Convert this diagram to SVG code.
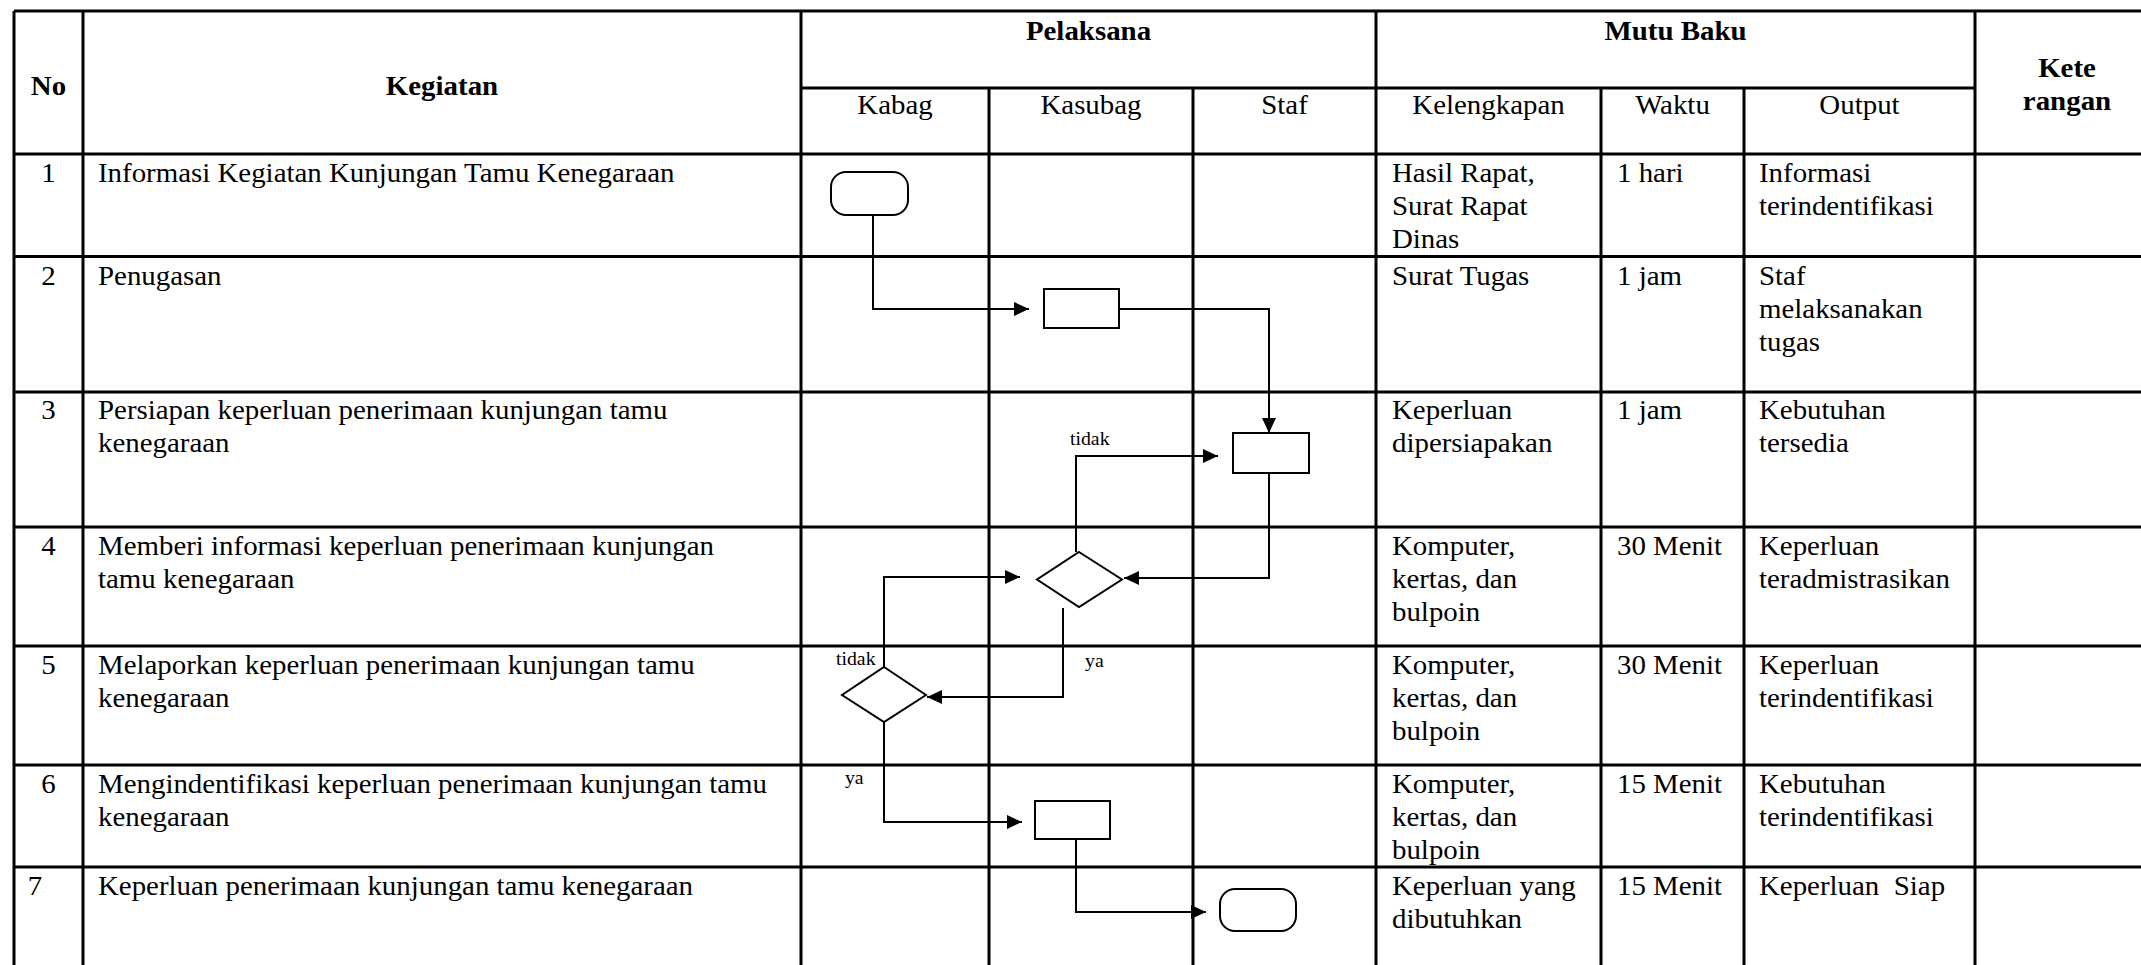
<svg xmlns="http://www.w3.org/2000/svg" width="2141" height="965" viewBox="0 0 2141 965">
<style>
.grid{stroke:#000;stroke-width:3;fill:none}
.shape{fill:#fff;stroke:#000;stroke-width:2}
.conn{fill:none;stroke:#000;stroke-width:2}
text{font-family:"Liberation Serif","Times New Roman",serif;font-size:27px;fill:#000}
.b{font-weight:bold}
.c{text-anchor:middle}
.s{font-size:18.5px}
</style>
<defs>
<marker id="arr" markerUnits="userSpaceOnUse" markerWidth="16" markerHeight="16" viewBox="0 0 16 16" refX="15" refY="8" orient="auto">
<path d="M0,1 L15,8 L0,15 Z" fill="#000"/>
</marker>
</defs>
<rect width="2141" height="965" fill="#fff"/>
<g id="table" class="grid">
<line x1="14" y1="11" x2="2141" y2="11"/>
<line x1="801" y1="88" x2="1975" y2="88"/>
<line x1="14" y1="154" x2="2141" y2="154"/>
<line x1="14" y1="256.5" x2="2141" y2="256.5"/>
<line x1="14" y1="392" x2="2141" y2="392"/>
<line x1="14" y1="527" x2="2141" y2="527"/>
<line x1="14" y1="646" x2="2141" y2="646"/>
<line x1="14" y1="765" x2="2141" y2="765"/>
<line x1="14" y1="867" x2="2141" y2="867"/>
<line x1="14" y1="11" x2="14" y2="965"/>
<line x1="83" y1="11" x2="83" y2="965"/>
<line x1="801" y1="11" x2="801" y2="965"/>
<line x1="989" y1="88" x2="989" y2="965"/>
<line x1="1193" y1="88" x2="1193" y2="965"/>
<line x1="1376" y1="11" x2="1376" y2="965"/>
<line x1="1601" y1="88" x2="1601" y2="965"/>
<line x1="1744" y1="88" x2="1744" y2="965"/>
<line x1="1975" y1="11" x2="1975" y2="965"/>
</g>
<g id="texts" transform="scale(1.07 1)">
<text class="b c" x="45.33" y="95">No</text>
<text class="b c" x="413.08" y="95">Kegiatan</text>
<text class="b c" x="1017.29" y="40">Pelaksana</text>
<text class="b c" x="1565.89" y="40">Mutu Baku</text>
<text class="b c" x="1931.78" y="77">Kete</text>
<text class="b c" x="1931.78" y="110">rangan</text>
<text class="c" x="836.45" y="114">Kabag</text>
<text class="c" x="1019.63" y="114">Kasubag</text>
<text class="c" x="1200.47" y="114">Staf</text>
<text class="c" x="1391.12" y="114">Kelengkapan</text>
<text class="c" x="1563.08" y="114">Waktu</text>
<text class="c" x="1737.85" y="114">Output</text>

<text class="c" x="45.33" y="182">1</text>
<text x="91.59" y="182">Informasi Kegiatan Kunjungan Tamu Kenegaraan</text>
<text x="1300.93" y="182">Hasil Rapat,</text>
<text x="1300.93" y="215">Surat Rapat</text>
<text x="1300.93" y="248">Dinas</text>
<text x="1511.21" y="182">1 hari</text>
<text x="1643.93" y="182">Informasi</text>
<text x="1643.93" y="215">terindentifikasi</text>

<text class="c" x="45.33" y="285">2</text>
<text x="91.59" y="285">Penugasan</text>
<text x="1300.93" y="285">Surat Tugas</text>
<text x="1511.21" y="285">1 jam</text>
<text x="1643.93" y="285">Staf</text>
<text x="1643.93" y="318">melaksanakan</text>
<text x="1643.93" y="351">tugas</text>

<text class="c" x="45.33" y="419">3</text>
<text x="91.59" y="419">Persiapan keperluan penerimaan kunjungan tamu</text>
<text x="91.59" y="452">kenegaraan</text>
<text x="1300.93" y="419">Keperluan</text>
<text x="1300.93" y="452">dipersiapakan</text>
<text x="1511.21" y="419">1 jam</text>
<text x="1643.93" y="419">Kebutuhan</text>
<text x="1643.93" y="452">tersedia</text>

<text class="c" x="45.33" y="555">4</text>
<text x="91.59" y="555">Memberi informasi keperluan penerimaan kunjungan</text>
<text x="91.59" y="588">tamu kenegaraan</text>
<text x="1300.93" y="555">Komputer,</text>
<text x="1300.93" y="588">kertas, dan</text>
<text x="1300.93" y="621">bulpoin</text>
<text x="1511.21" y="555">30 Menit</text>
<text x="1643.93" y="555">Keperluan</text>
<text x="1643.93" y="588">teradmistrasikan</text>

<text class="c" x="45.33" y="674">5</text>
<text x="91.59" y="674">Melaporkan keperluan penerimaan kunjungan tamu</text>
<text x="91.59" y="707">kenegaraan</text>
<text x="1300.93" y="674">Komputer,</text>
<text x="1300.93" y="707">kertas, dan</text>
<text x="1300.93" y="740">bulpoin</text>
<text x="1511.21" y="674">30 Menit</text>
<text x="1643.93" y="674">Keperluan</text>
<text x="1643.93" y="707">terindentifikasi</text>

<text class="c" x="45.33" y="793">6</text>
<text x="91.59" y="793">Mengindentifikasi keperluan penerimaan kunjungan tamu</text>
<text x="91.59" y="826">kenegaraan</text>
<text x="1300.93" y="793">Komputer,</text>
<text x="1300.93" y="826">kertas, dan</text>
<text x="1300.93" y="859">bulpoin</text>
<text x="1511.21" y="793">15 Menit</text>
<text x="1643.93" y="793">Kebutuhan</text>
<text x="1643.93" y="826">terindentifikasi</text>

<text class="c" x="32.71" y="895">7</text>
<text x="91.59" y="895">Keperluan penerimaan kunjungan tamu kenegaraan</text>
<text x="1300.93" y="895">Keperluan yang</text>
<text x="1300.93" y="928">dibutuhkan</text>
<text x="1511.21" y="895">15 Menit</text>
<text x="1643.93" y="895">Keperluan&#160; Siap</text>

<text class="s" x="1000" y="445">tidak</text>
<text class="s" x="781.31" y="665">tidak</text>
<text class="s" x="1014.02" y="667">ya</text>
<text class="s" x="789.72" y="784">ya</text>
</g>
<g id="connectors" class="conn">
<polyline points="873,215 873,309 1029,309" marker-end="url(#arr)"/>
<polyline points="1119,309 1269,309 1269,433" marker-end="url(#arr)"/>
<polyline points="1269,473 1269,578 1124,578" marker-end="url(#arr)"/>
<polyline points="1076,552 1076,456 1218,456" marker-end="url(#arr)"/>
<polyline points="1063,608 1063,697 927,697" marker-end="url(#arr)"/>
<polyline points="884,667 884,577 1020,577" marker-end="url(#arr)"/>
<polyline points="884,722 884,822 1022,822" marker-end="url(#arr)"/>
<polyline points="1076,839 1076,912 1206,912" marker-end="url(#arr)"/>
</g>
<g id="n1"><rect class="shape" x="831" y="172" width="77" height="43" rx="15" ry="15"/></g>
<g id="n2"><rect class="shape" x="1044" y="289" width="75" height="39"/></g>
<g id="n3"><rect class="shape" x="1233" y="433" width="76" height="40"/></g>
<g id="n4"><polygon class="shape" points="1079,552 1122,579.5 1079,607 1037,579.5"/></g>
<g id="n5"><polygon class="shape" points="884,667 926,695 884,722 842,695"/></g>
<g id="n6"><rect class="shape" x="1035" y="801" width="75" height="38"/></g>
<g id="n7"><rect class="shape" x="1220" y="889" width="76" height="42" rx="15" ry="15"/></g>
</svg>
